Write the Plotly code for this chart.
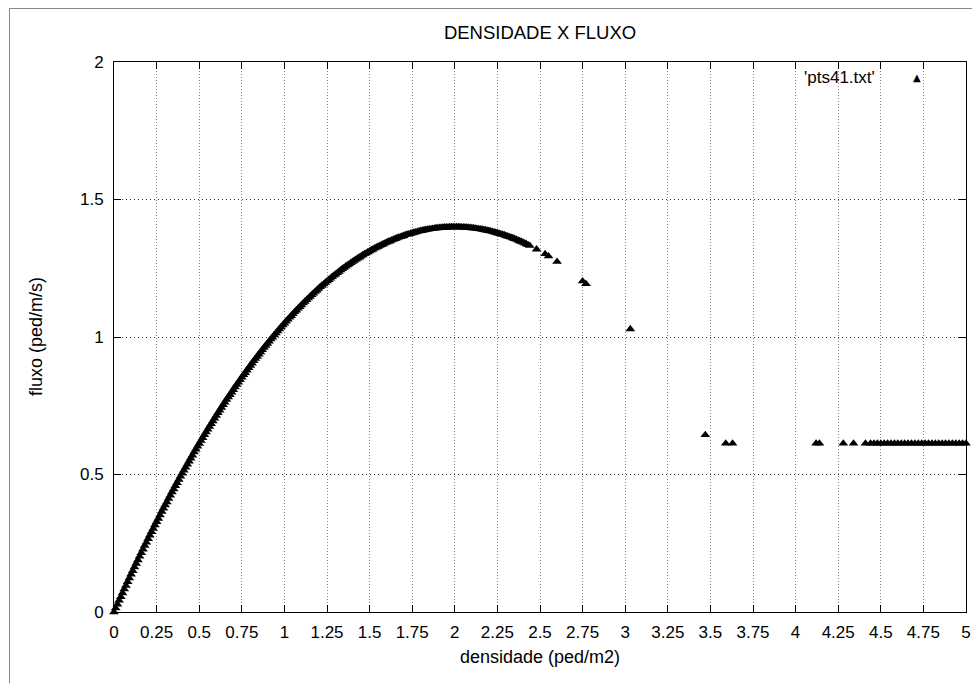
import plotly.graph_objects as go

# densidade (ped/m2) x fluxo (ped/m/s)
dens_low = [0.00, 0.01, 0.02, 0.03, 0.04, 0.05, 0.06, 0.07, 0.08, 0.09,
            0.10, 0.11, 0.12, 0.13, 0.14, 0.15, 0.16, 0.17, 0.18, 0.19,
            0.20, 0.21, 0.22, 0.23, 0.24, 0.25, 0.26, 0.27, 0.28, 0.29,
            0.30, 0.31, 0.32, 0.33, 0.34, 0.35, 0.36, 0.37, 0.38, 0.39,
            0.40, 0.41, 0.42, 0.43, 0.44, 0.45, 0.46, 0.47, 0.48, 0.49,
            0.50, 0.51, 0.52, 0.53, 0.54, 0.55, 0.56, 0.57, 0.58, 0.59,
            0.60, 0.61, 0.62, 0.63, 0.64, 0.65, 0.66, 0.67, 0.68, 0.69,
            0.70, 0.71, 0.72, 0.73, 0.74, 0.75, 0.76, 0.77, 0.78, 0.79,
            0.80, 0.81, 0.82, 0.83, 0.84, 0.85, 0.86, 0.87, 0.88, 0.89,
            0.90, 0.91, 0.92, 0.93, 0.94, 0.95, 0.96, 0.97, 0.98, 0.99]
fluxo_low = [0.000, 0.014, 0.028, 0.042, 0.055, 0.069, 0.083, 0.096, 0.110, 0.123,
             0.137, 0.150, 0.163, 0.176, 0.189, 0.202, 0.215, 0.228, 0.241, 0.253,
             0.266, 0.279, 0.291, 0.303, 0.316, 0.328, 0.340, 0.352, 0.365, 0.377,
             0.389, 0.400, 0.412, 0.424, 0.436, 0.447, 0.459, 0.470, 0.481, 0.493,
             0.504, 0.515, 0.526, 0.537, 0.548, 0.559, 0.570, 0.581, 0.591, 0.602,
             0.612, 0.623, 0.633, 0.644, 0.654, 0.664, 0.674, 0.684, 0.694, 0.704,
             0.714, 0.724, 0.733, 0.743, 0.753, 0.762, 0.772, 0.781, 0.790, 0.799,
             0.808, 0.818, 0.827, 0.835, 0.844, 0.853, 0.862, 0.870, 0.879, 0.888,
             0.896, 0.904, 0.913, 0.921, 0.929, 0.937, 0.945, 0.953, 0.961, 0.969,
             0.976, 0.984, 0.992, 0.999, 1.007, 1.014, 1.021, 1.029, 1.036, 1.043]

dens_mid = [1.00, 1.02, 1.04, 1.06, 1.08, 1.10, 1.12, 1.14, 1.16, 1.18,
            1.20, 1.22, 1.24, 1.26, 1.28, 1.30, 1.32, 1.34, 1.36, 1.38,
            1.40, 1.42, 1.44, 1.46, 1.48, 1.50, 1.52, 1.54, 1.56, 1.58,
            1.60, 1.62, 1.64, 1.66, 1.68, 1.70, 1.72, 1.74, 1.76, 1.78,
            1.80, 1.82, 1.84, 1.86, 1.88, 1.90, 1.92, 1.94, 1.96, 1.98,
            2.00, 2.02, 2.04, 2.06, 2.08, 2.10, 2.12, 2.14, 2.16, 2.18,
            2.20, 2.22, 2.24, 2.26, 2.28, 2.30, 2.32, 2.34, 2.36, 2.38,
            2.40, 2.42, 2.44]
fluxo_mid = [1.050, 1.064, 1.077, 1.091, 1.104, 1.116, 1.129, 1.141, 1.153, 1.165,
             1.176, 1.187, 1.198, 1.208, 1.219, 1.228, 1.238, 1.248, 1.257, 1.265,
             1.274, 1.282, 1.290, 1.298, 1.305, 1.312, 1.319, 1.326, 1.332, 1.338,
             1.344, 1.349, 1.355, 1.360, 1.364, 1.368, 1.373, 1.376, 1.380, 1.383,
             1.386, 1.389, 1.391, 1.393, 1.395, 1.396, 1.398, 1.399, 1.399, 1.400,
             1.400, 1.400, 1.399, 1.399, 1.398, 1.396, 1.395, 1.393, 1.391, 1.389,
             1.386, 1.383, 1.380, 1.376, 1.373, 1.368, 1.364, 1.360, 1.355, 1.349,
             1.344, 1.338, 1.332]

# the in-between samples of the same stretch
dens_mid2 = [1.01, 1.03, 1.05, 1.07, 1.09, 1.11, 1.13, 1.15, 1.17, 1.19,
             1.21, 1.23, 1.25, 1.27, 1.29, 1.31, 1.33, 1.35, 1.37, 1.39,
             1.41, 1.43, 1.45, 1.47, 1.49, 1.51, 1.53, 1.55, 1.57, 1.59,
             1.61, 1.63, 1.65, 1.67, 1.69, 1.71, 1.73, 1.75, 1.77, 1.79,
             1.81, 1.83, 1.85, 1.87, 1.89, 1.91, 1.93, 1.95, 1.97, 1.99,
             2.01, 2.03, 2.05, 2.07, 2.09, 2.11, 2.13, 2.15, 2.17, 2.19,
             2.21, 2.23, 2.25, 2.27, 2.29, 2.31, 2.33, 2.35, 2.37, 2.39,
             2.41, 2.43]
fluxo_mid2 = [1.057, 1.071, 1.084, 1.097, 1.110, 1.123, 1.135, 1.147, 1.159, 1.170,
              1.182, 1.192, 1.203, 1.213, 1.224, 1.233, 1.243, 1.252, 1.261, 1.270,
              1.278, 1.286, 1.294, 1.302, 1.309, 1.316, 1.323, 1.329, 1.335, 1.341,
              1.347, 1.352, 1.357, 1.362, 1.366, 1.371, 1.374, 1.378, 1.381, 1.385,
              1.387, 1.390, 1.392, 1.394, 1.396, 1.397, 1.398, 1.399, 1.400, 1.400,
              1.400, 1.400, 1.399, 1.398, 1.397, 1.396, 1.394, 1.392, 1.390, 1.387,
              1.385, 1.381, 1.378, 1.374, 1.371, 1.366, 1.362, 1.357, 1.352, 1.347,
              1.341, 1.335]

dens_high = [2.48, 2.53, 2.55, 2.60, 2.75, 2.77, 3.03, 3.47,
             3.59, 3.63, 4.12, 4.14, 4.28, 4.34, 4.41,
             4.44, 4.46, 4.48, 4.50, 4.52, 4.54, 4.56, 4.58, 4.60, 4.62,
             4.64, 4.66, 4.68, 4.70, 4.72, 4.74, 4.76, 4.78, 4.80, 4.82,
             4.84, 4.86, 4.88, 4.90, 4.92, 4.94, 4.96, 4.98, 5.00]
fluxo_high = [1.319, 1.302, 1.294, 1.274, 1.203, 1.193, 1.029, 0.644,
              0.613, 0.613, 0.613, 0.613, 0.613, 0.613, 0.613,
              0.613, 0.613, 0.613, 0.613, 0.613, 0.613, 0.613, 0.613, 0.613, 0.613,
              0.613, 0.613, 0.613, 0.613, 0.613, 0.613, 0.613, 0.613, 0.613, 0.613,
              0.613, 0.613, 0.613, 0.613, 0.613, 0.613, 0.613, 0.613, 0.613]

densidade = dens_low + dens_mid + dens_mid2 + dens_high
fluxo = fluxo_low + fluxo_mid + fluxo_mid2 + fluxo_high

x_ticks = [0, 0.25, 0.5, 0.75, 1, 1.25, 1.5, 1.75, 2, 2.25, 2.5, 2.75,
           3, 3.25, 3.5, 3.75, 4, 4.25, 4.5, 4.75, 5]
x_tick_text = ['0', '0.25', '0.5', '0.75', '1', '1.25', '1.5', '1.75', '2',
               '2.25', '2.5', '2.75', '3', '3.25', '3.5', '3.75', '4', '4.25',
               '4.5', '4.75', '5']
y_ticks = [0, 0.5, 1, 1.5, 2]
y_tick_text = ['0', '0.5', '1', '1.5', '2']

FONT = 'Liberation Sans, Arial, sans-serif'

# page body has an 8px margin, so the figure is sized to fill the rest
W, H = 964, 675
L, R, T, B = 106, 6, 54, 71
PW, PH = W - L - R, H - T - B


def px(fx):
    return (fx - L) / PW


def py(fy):
    return (T + PH - fy) / PH


fig = go.Figure()
fig.add_trace(go.Scatter(x=densidade, y=fluxo, mode='markers',
                         name="'pts41.txt'",
                         marker=dict(symbol='triangle-up', size=8.5, color='black',
                                     line=dict(width=0)),
                         cliponaxis=False, showlegend=False))

axis_common = dict(showline=True, linecolor='black', linewidth=1, mirror='ticks',
                   ticks='inside', ticklen=7, tickcolor='black', tickwidth=1,
                   showgrid=True, gridwidth=1, automargin=False,
                   zeroline=False, tickfont=dict(family=FONT, size=17, color='black'))

fig.update_xaxes(range=[0, 5], tickmode='array', tickvals=x_ticks, ticktext=x_tick_text,
                 gridcolor='#8a8a8a', griddash='1px,2px',
                 ticklabelstandoff=5, **axis_common)
fig.update_yaxes(range=[0, 2], tickmode='array', tickvals=y_ticks, ticktext=y_tick_text,
                 gridcolor='#333333', griddash='1px,3px',
                 ticklabelstandoff=6, **axis_common)

fig.update_layout(
    width=W, height=H,
    margin=dict(l=L, r=R, t=T, b=B),
    paper_bgcolor='white', plot_bgcolor='white',
    font=dict(family=FONT, size=17, color='black'),
    title=dict(text='DENSIDADE X FLUXO', x=532 / W, xanchor='center',
               y=1 - 25 / H, yanchor='middle',
               font=dict(family=FONT, size=18.5, color='black')),
    annotations=[
        dict(text='densidade (ped/m2)', xref='paper', yref='paper', x=px(532), y=py(649),
             xanchor='center', yanchor='middle', showarrow=False,
             font=dict(family=FONT, size=18, color='black')),
        dict(text='fluxo (ped/m/s)', xref='paper', yref='paper', x=px(28), y=0.5,
             xanchor='center', yanchor='middle', textangle=-90, showarrow=False,
             font=dict(family=FONT, size=18, color='black')),
        dict(text="'pts41.txt'", xref='paper', yref='paper', x=px(869), y=py(70),
             xanchor='right', yanchor='middle', showarrow=False,
             font=dict(family=FONT, size=17, color='black')),
        dict(text='\u25b2', xref='paper', yref='paper', x=px(909), y=py(70),
             xanchor='center', yanchor='middle', showarrow=False,
             font=dict(family='DejaVu Sans', size=10, color='black')),
    ],
    shapes=[
        # outer window frame (left and top edges)
        dict(type='line', xref='paper', yref='paper', x0=px(1.5), x1=px(1.5),
             y0=py(H + 5), y1=py(0.5), line=dict(color='#888888', width=1)),
        dict(type='line', xref='paper', yref='paper', x0=px(1.5), x1=px(W + 5),
             y0=py(0.5), y1=py(0.5), line=dict(color='#888888', width=1)),
    ],
)

fig.write_html('out.html')
